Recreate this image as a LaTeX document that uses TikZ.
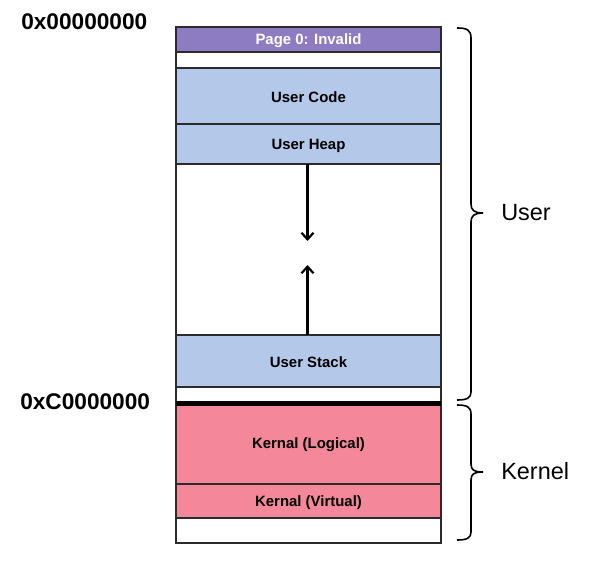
\documentclass[tikz,border=0pt]{standalone}
\usepackage{fontspec}
\setmainfont{Liberation Sans}
\usetikzlibrary{arrows.meta}
\definecolor{purp}{HTML}{8E7CC3}
\definecolor{ublue}{HTML}{B4C8EA}
\definecolor{kpink}{HTML}{F4879A}
\definecolor{edge}{HTML}{2B2B2B}
\begin{document}
\begin{tikzpicture}[x=0.75pt,y=-0.75pt,
  row/.style={draw=edge,line width=0.8pt},
  boxlabel/.style={font=\bfseries\fontsize{11.2}{13}\selectfont,text=black},
  addr/.style={font=\bfseries\fontsize{17}{20}\selectfont,anchor=west,inner sep=0pt},
  side/.style={font=\fontsize{17.6}{20}\selectfont,anchor=west,inner sep=0pt},
  brace/.style={draw=black,line width=1.2pt},
  growarrow/.style={draw=black,line width=1.6pt,-{Straight Barb[length=5pt,width=9pt,line width=1.6pt]}}]
\useasboundingbox (0,0) rectangle (592,570);
% rows
\path[fill=purp,row] (176,27) rectangle (441,52);
\path[fill=white,row] (176,52) rectangle (441,68);
\path[fill=ublue,row] (176,68) rectangle (441,124);
\path[fill=ublue,row] (176,124) rectangle (441,164);
\path[fill=white,row] (176,164) rectangle (441,335);
\path[fill=ublue,row] (176,335) rectangle (441,387);
\path[fill=white,row] (176,387) rectangle (441,403);
\path[fill=kpink,row] (176,403) rectangle (441,484);
\path[fill=kpink,row] (176,484) rectangle (441,518);
\path[fill=white,row] (176,518) rectangle (441,543);
\draw[black,line width=3.8pt] (176,403.5) -- (441,403.5);
% labels
\node[boxlabel,text=white] (p0) at (308.5,40.5) {Page 0: Invalid};
\node[boxlabel] (uc) at (308.5,97.5) {User Code};
\node[boxlabel] (uh) at (308.5,145.5) {User Heap};
\node[boxlabel] (us) at (308.5,362.5) {User Stack};
\node[boxlabel] (kl) at (308.5,444.5) {Kernal (Logical)};
\node[boxlabel] (kv) at (308.5,502.5) {Kernal (Virtual)};
% arrows
\coordinate (heapbot) at (307.5,164);
\coordinate (downtip) at (307.5,241);
\coordinate (stacktop) at (307.5,335);
\coordinate (uptip) at (307.5,265);
\draw[growarrow] (heapbot) -- (downtip);
\draw[growarrow] (stacktop) -- (uptip);
% addresses
\node[addr] (a0) at (21,22) {0x00000000};
\node[addr] (ac) at (20,402) {0xC0000000};
% braces
\draw[brace] (457,28) .. controls (467,28) and (471,30) .. (471,38) -- (471,204)
  .. controls (471,210) and (474,213) .. (483,213)
  .. controls (474,213) and (471,216) .. (471,222) -- (471,392)
  .. controls (471,398) and (467,400) .. (457,400);
\draw[brace] (457,405) .. controls (467,405) and (471,407) .. (471,414) -- (471,464)
  .. controls (471,470) and (474,472) .. (483,472)
  .. controls (474,472) and (471,474) .. (471,480) -- (471,532)
  .. controls (471,538) and (467,540) .. (457,540);
\node[side] (user) at (501,213) {User};
\node[side] (kern) at (501,471) {Kernel};
\end{tikzpicture}
\end{document}
